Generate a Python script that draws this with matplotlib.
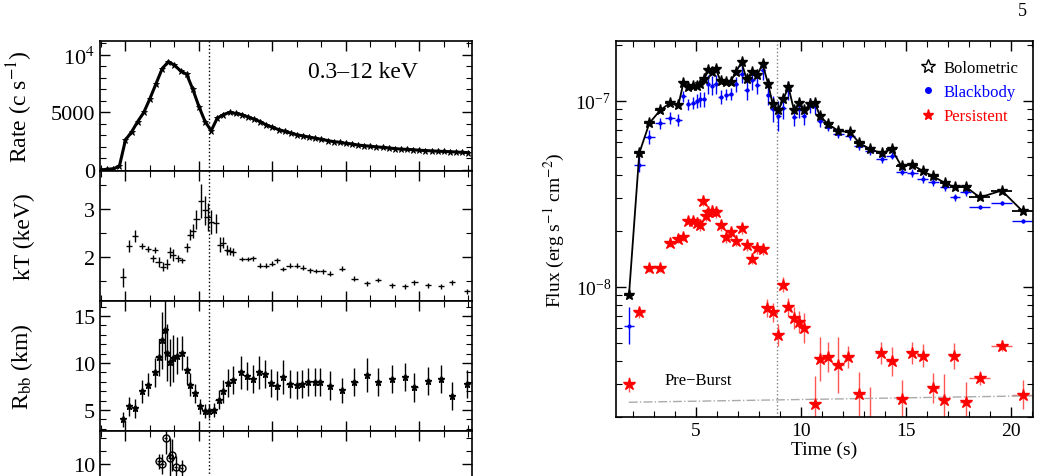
import numpy as np
import matplotlib
matplotlib.use("Agg")
import matplotlib.pyplot as plt
from matplotlib.ticker import MultipleLocator, FixedLocator, NullFormatter
from matplotlib.lines import Line2D

plt.rcParams['font.family'] = ['Liberation Serif', 'DejaVu Serif']
plt.rcParams['mathtext.fontset'] = 'stix'

# ---------------- left panel data ----------------
rate_t = [i * 0.5 for i in range(61)]
rate = [0, 50, 100, 300, 2600, 3300, 4200, 5000, 6200, 7500, 8800, 9400, 9100, 8600, 8300,
        7000, 5500, 4200, 3400, 4500, 4800, 5000, 4900, 4800, 4600, 4400, 4200, 3900, 3700,
        3500, 3350, 3200, 3050, 2950, 2850, 2750, 2650, 2550, 2450, 2400, 2300, 2250, 2150,
        2100, 2050, 2000, 1950, 1900, 1850, 1800, 1780, 1750, 1700, 1680, 1650, 1620, 1600,
        1580, 1550, 1520, 1500]

kt_t = [1.8, 2.3, 2.8, 3.35, 3.85, 4.4, 4.25, 4.7, 5.1, 5.4, 5.65, 5.9, 6.3, 6.6, 7.0, 7.3,
        7.5, 7.8, 8.2, 8.5, 8.7, 9.0, 9.4, 9.7, 10.0, 10.3, 10.5, 10.8, 11.5, 12.0, 12.4,
        13.0, 13.5, 14.0, 14.4, 14.9, 15.4, 16.0, 16.5, 17.1, 17.6, 18.1, 18.7, 19.7, 20.7,
        21.7, 22.6, 23.8, 24.8, 25.6, 26.7, 27.8, 28.7, 29.9]
kt = [1.58, 2.23, 2.44, 2.23, 2.17, 2.14, 1.97, 1.90, 1.80, 1.86, 2.10, 2.04, 1.97, 1.93,
      2.20, 2.47, 2.55, 2.79, 3.17, 2.98, 2.84, 2.74, 2.71, 2.26, 2.30, 2.15, 2.12, 2.10,
      1.96, 1.96, 1.97, 1.82, 1.82, 1.86, 1.93, 1.75, 1.82, 1.82, 1.78, 1.72, 1.71, 1.70,
      1.65, 1.76, 1.55, 1.45, 1.52, 1.41, 1.39, 1.47, 1.41, 1.39, 1.47, 1.28]
kt_err = [0.2, 0.12, 0.12, 0.06, 0.06, 0.06, 0.08, 0.1, 0.1, 0.1, 0.12, 0.12, 0.08, 0.06,
          0.1, 0.12, 0.15, 0.2, 0.35, 0.3, 0.3, 0.25, 0.2, 0.15, 0.12, 0.1, 0.08, 0.08,
          0.05, 0.05, 0.05, 0.05, 0.05, 0.05, 0.05, 0.05, 0.05, 0.05, 0.05, 0.05, 0.05, 0.05,
          0.05, 0.05, 0.05, 0.05, 0.05, 0.05, 0.05, 0.05, 0.05, 0.05, 0.05, 0.05]

rbb_t = [1.8, 2.3, 2.8, 3.35, 3.85, 4.4, 4.7, 5.0, 5.2, 5.4, 5.65, 5.9, 6.2, 6.6, 7.0, 7.3,
         7.7, 8.1, 8.5, 8.85, 9.2, 9.6, 10.0, 10.4, 10.8, 11.4, 11.9, 12.4, 12.9, 13.4, 13.9,
         14.4, 14.9, 15.4, 16.0, 16.4, 16.9, 17.5, 17.9, 18.7, 19.7, 20.7, 21.7, 22.6, 23.8,
         24.8, 25.6, 26.7, 27.8, 28.7, 29.9]
rbb = [4.0, 5.4, 5.2, 7.0, 7.7, 9.0, 10.6, 12.4, 13.5, 11.1, 10.1, 10.5, 10.8, 11.1, 9.3,
       7.7, 6.8, 5.4, 4.9, 4.9, 5.0, 6.1, 7.0, 7.9, 8.2, 9.0, 8.6, 8.3, 9.0, 8.8, 7.9, 7.6,
       8.5, 7.8, 7.7, 7.8, 8.0, 8.0, 8.0, 7.6, 7.1, 8.0, 8.7, 8.0, 8.3, 8.5, 7.4, 8.1, 8.3,
       6.5, 7.8]
rbb_err = [0.8, 1.0, 1.0, 1.2, 1.2, 1.5, 2.0, 3.0, 3.2, 3.0, 2.5, 2.5, 2.0, 1.8, 1.5, 1.2,
           1.0, 0.8, 0.7, 0.7, 0.7, 1.0, 1.2, 1.5, 1.5, 1.8, 1.5, 1.5, 1.8, 1.5, 1.5, 1.5,
           1.8, 1.5, 1.5, 1.5, 1.5, 1.5, 1.5, 1.5, 1.3, 1.5, 1.8, 1.5, 1.5, 1.5, 1.5, 1.5,
           1.5, 1.5, 1.5]

p4_t = [4.7, 5.0, 5.3, 5.6, 5.8, 6.1, 6.6]
p4 = [10.2, 10.0, 12.0, 10.5, 10.7, 9.8, 9.7]
p4_err = [0.6, 0.8, 1.2, 1.5, 1.2, 0.8, 0.6]

# ---------------- right panel data ----------------
flux_t = [1.81, 2.30, 2.78, 3.29, 3.76, 4.16, 4.40, 4.63, 4.87, 5.06, 5.19, 5.38, 5.59, 5.75,
          5.94, 6.17, 6.43, 6.65, 6.89, 7.17, 7.41, 7.68, 7.92, 8.17, 8.44, 8.65, 8.92, 9.16,
          9.40, 9.67, 9.92, 10.14, 10.43, 10.67, 10.90, 11.30, 11.78, 12.33, 12.78, 13.29,
          13.84, 14.32, 14.79, 15.30, 15.79, 16.30, 16.86, 17.33, 17.84, 18.52, 19.56, 20.56]
flux_terr = [0.25, 0.25, 0.25, 0.25, 0.22, 0.15, 0.12, 0.12, 0.12, 0.1, 0.1, 0.1, 0.1, 0.1,
             0.12, 0.12, 0.12, 0.12, 0.12, 0.12, 0.12, 0.12, 0.12, 0.12, 0.12, 0.12, 0.12,
             0.12, 0.12, 0.12, 0.12, 0.12, 0.12, 0.12, 0.15, 0.22, 0.25, 0.25, 0.25, 0.25,
             0.25, 0.25, 0.25, 0.25, 0.25, 0.25, 0.25, 0.25, 0.25, 0.5, 0.5, 0.5]
bolometric = [9.1e-9, 5.25e-8, 7.6e-8, 8.9e-8, 9.75e-8, 9.5e-8, 1.25e-7, 1.19e-7, 1.2e-7,
              1.21e-7, 1.23e-7, 1.31e-7, 1.46e-7, 1.43e-7, 1.49e-7, 1.28e-7, 1.26e-7, 1.27e-7,
              1.43e-7, 1.61e-7, 1.31e-7, 1.43e-7, 1.38e-7, 1.58e-7, 1.23e-7, 9.6e-8, 8.9e-8,
              1.02e-7, 1.19e-7, 8.9e-8, 9.75e-8, 8.9e-8, 9.6e-8, 9.75e-8, 8.3e-8, 7.5e-8,
              6.9e-8, 6.8e-8, 5.95e-8, 5.5e-8, 5.25e-8, 5.5e-8, 4.45e-8, 4.55e-8, 4.2e-8,
              3.93e-8, 3.62e-8, 3.43e-8, 3.46e-8, 3.03e-8, 3.3e-8, 2.55e-8]
blackbody = [6.2e-9, 4.55e-8, 6.4e-8, 7.6e-8, 8.1e-8, 7.9e-8, 1.06e-7, 9.6e-8, 9.75e-8,
             1.0e-7, 1.02e-7, 1.02e-7, 1.23e-7, 1.21e-7, 1.23e-7, 1.05e-7, 1.08e-7, 1.09e-7,
             1.23e-7, 1.40e-7, 1.14e-7, 1.29e-7, 1.22e-7, 1.46e-7, 1.07e-7, 9.05e-8, 8.3e-8,
             9.2e-8, 1.14e-7, 8.2e-8, 9.05e-8, 8.3e-8, 9.5e-8, 9.35e-8, 7.8e-8, 7.2e-8,
             6.65e-8, 6.45e-8, 5.7e-8, 5.35e-8, 4.88e-8, 5.08e-8, 4.17e-8, 4.1e-8, 3.81e-8,
             3.66e-8, 3.43e-8, 3.03e-8, 3.23e-8, 2.68e-8, 2.82e-8, 2.27e-8]
bb_dlog = [0.1, 0.04, 0.04, 0.03, 0.03, 0.03, 0.03, 0.03, 0.03, 0.04, 0.04, 0.04, 0.05,
           0.05, 0.05, 0.04, 0.03, 0.03, 0.04, 0.05, 0.05, 0.05, 0.05, 0.05, 0.05, 0.07,
           0.08, 0.06, 0.05, 0.05, 0.05, 0.05, 0.04, 0.04, 0.03, 0.02, 0.02, 0.02, 0.02,
           0.02, 0.02, 0.02, 0.02, 0.02, 0.02, 0.02, 0.02, 0.02, 0.02, 0.01, 0.01, 0.01]
pers_t = [1.81, 2.30, 2.78, 3.29, 3.76, 4.16, 4.40, 4.63, 4.87, 5.06, 5.19, 5.35, 5.48, 5.59,
          5.75, 5.94, 6.17, 6.43, 6.65, 6.89, 7.17, 7.41, 7.68, 7.92, 8.17, 8.40, 8.65, 8.92,
          9.16, 9.40, 9.67, 9.92, 10.14, 10.67, 10.90, 11.30, 11.78, 12.25, 12.78, 13.29,
          13.79, 14.32, 14.79, 15.30, 15.79, 16.30, 16.81, 17.29, 17.84, 18.52, 19.56, 20.56]
persistent = [3.0e-9, 7.3e-9, 1.26e-8, 1.26e-8, 1.72e-8, 1.8e-8, 1.85e-8, 2.27e-8, 2.27e-8,
              2.22e-8, 2.15e-8, 2.91e-8, 2.42e-8, 2.53e-8, 2.57e-8, 2.53e-8, 2.15e-8,
              1.85e-8, 1.97e-8, 1.77e-8, 2.07e-8, 1.68e-8, 1.42e-8, 1.62e-8, 1.60e-8, 7.7e-9,
              7.3e-9, 5.5e-9, 1.03e-8, 7.8e-9, 6.8e-9, 6.5e-9, 6.0e-9, 2.35e-9, 4.1e-9, 4.2e-9,
              3.81e-9, 4.2e-9, 2.66e-9, 1.83e-9, 4.42e-9, 3.98e-9, 2.5e-9, 4.42e-9, 4.28e-9,
              2.86e-9, 2.48e-9, 4.25e-9, 2.4e-9, 3.24e-9, 4.84e-9, 2.64e-9]
pers_dlog = [0.04, 0.03, 0.02, 0.02, 0.02, 0.02, 0.02, 0.02, 0.02, 0.03, 0.03, 0.03, 0.03,
             0.03, 0.03, 0.03, 0.03, 0.03, 0.03, 0.03, 0.03, 0.03, 0.03, 0.03, 0.03, 0.05,
             0.05, 0.06, 0.04, 0.05, 0.06, 0.06, 0.08, 0.15, 0.12, 0.08, 0.15, 0.06, 0.12,
             0.2, 0.06, 0.08, 0.1, 0.06, 0.06, 0.08, 0.14, 0.07, 0.11, 0.04, 0.03, 0.08]
preburst_t = [1.8, 21.0]
preburst = [2.4e-9, 2.6e-9]
peak_time = 8.85

# ---------------- figure ----------------
W, H = 1040, 477
fig = plt.figure(figsize=(W / 100, H / 100), dpi=100)

def fax(x0, y_top, w, h):
    return fig.add_axes([x0 / W, 1 - (y_top + h) / H, w / W, h / H])

def style(ax, labelsize=16):
    ax.tick_params(which='both', direction='in', top=True, right=True, labelsize=labelsize)
    ax.tick_params(which='major', length=7, width=1)
    ax.tick_params(which='minor', length=4, width=0.8)
    for s in ax.spines.values():
        s.set_linewidth(1.2)

left_axes = []
for i in range(4):
    ax = fax(100, 42 + 130 * i, 372, 130)
    ax.set_xlim(-0.08, 30.3)
    ax.xaxis.set_major_locator(FixedLocator([2, 8, 14, 20, 26]))
    ax.xaxis.set_minor_locator(MultipleLocator(2))
    ax.xaxis.set_major_formatter(NullFormatter())
    ax.axvline(peak_time, color='k', ls=':', lw=1)
    style(ax)
    left_axes.append(ax)

a0, a1, a2, a3 = left_axes
ekw = dict(color='k', elinewidth=1, capsize=0, ls='none')

a0.plot(rate_t, rate, color='k', lw=2.2, marker='*', ms=5, mew=0.6)
a0.set_ylim(-100, 11200)
a0.yaxis.set_major_locator(FixedLocator([0, 5000, 10000]))
a0.yaxis.set_minor_locator(MultipleLocator(1000))
a0.set_yticklabels(['0', '5000', r'10$^4$'])
a0.set_ylabel(r'Rate (c s$^{-1}$)', fontsize=17)
a0.text(0.56, 0.72, '0.3–12 keV', transform=a0.transAxes, fontsize=17)

a1.errorbar(kt_t, kt, yerr=kt_err, xerr=0.25, **ekw)
a1.set_ylim(1.08, 3.8)
a1.yaxis.set_major_locator(FixedLocator([2, 3]))
a1.yaxis.set_minor_locator(MultipleLocator(0.5))
a1.set_ylabel('kT (keV)', fontsize=17)

a2.errorbar(rbb_t, rbb, yerr=rbb_err, xerr=0.25, marker='*', ms=5, **ekw)
a2.set_ylim(2.77, 16.6)
a2.yaxis.set_major_locator(FixedLocator([5, 10, 15]))
a2.yaxis.set_minor_locator(MultipleLocator(1))
a2.set_ylabel(r'R$_{\rm bb}$ (km)', fontsize=17)

a3.errorbar(p4_t, p4, yerr=p4_err, xerr=0.12, marker='o', mfc='none', ms=5, **ekw)
a3.set_ylim(2.54, 12.54)
a3.yaxis.set_major_locator(FixedLocator([5, 10]))
a3.yaxis.set_minor_locator(MultipleLocator(1))

for ax in left_axes:
    ax.yaxis.set_label_coords(-0.175, 0.5)

# right panel
ar = fax(616, 42, 417, 376)
ar.set_yscale('log')
ar.set_xlim(1.19, 21.05)
ar.set_ylim(2.0e-9, 2.1e-7)
style(ar, labelsize=14)
ar.xaxis.set_major_locator(MultipleLocator(5))
ar.xaxis.set_minor_locator(MultipleLocator(1))
ar.yaxis.set_minor_formatter(NullFormatter())
ar.axvline(peak_time, color='gray', ls=':', lw=1)

bb = np.array(blackbody)
bbl = np.array(bb_dlog)
ar.errorbar(flux_t, bb, xerr=flux_terr, yerr=[bb - bb * 10 ** -bbl, bb * 10 ** bbl - bb],
            fmt='.', color='blue', ms=4, elinewidth=1, capsize=0)

pe = np.array(persistent)
pel = np.array(pers_dlog)
ar.errorbar(pers_t, pe, xerr=flux_terr, yerr=[pe - pe * 10 ** -pel, pe * 10 ** pel - pe],
            fmt='*', color='red', ms=9, elinewidth=1, ecolor='#ff5555', capsize=0)

ar.errorbar(flux_t, bolometric, xerr=flux_terr, fmt='-*', color='k', ms=8, lw=1.3,
            elinewidth=1.3, capsize=0)

ar.plot(preburst_t, preburst, color='#aaaaaa', ls='-.', lw=1)
ar.text(3.5, 3.0e-9, 'Pre−Burst', fontsize=12)

handles = [Line2D([], [], ls='none', marker='*', mfc='white', mec='k', ms=10),
           Line2D([], [], ls='none', marker='o', color='blue', ms=4),
           Line2D([], [], ls='none', marker='*', color='red', ms=8)]
leg = ar.legend(handles, ['Bolometric', 'Blackbody', 'Persistent'], loc='upper right',
                frameon=False, fontsize=12, handletextpad=0.3, handlelength=1.2,
                bbox_to_anchor=(1.0, 0.99))
for t, c in zip(leg.get_texts(), ['k', 'blue', 'red']):
    t.set_color(c)

ar.set_xlabel('Time (s)', fontsize=14, labelpad=1)
ar.set_ylabel(r'Flux (erg s$^{-1}$ cm$^{-2}$)', fontsize=14, labelpad=6)

fig.text(1022 / W, 1 - 12 / H, '5', fontsize=13, ha='center', va='center')

fig.savefig('out.png', dpi=100)
